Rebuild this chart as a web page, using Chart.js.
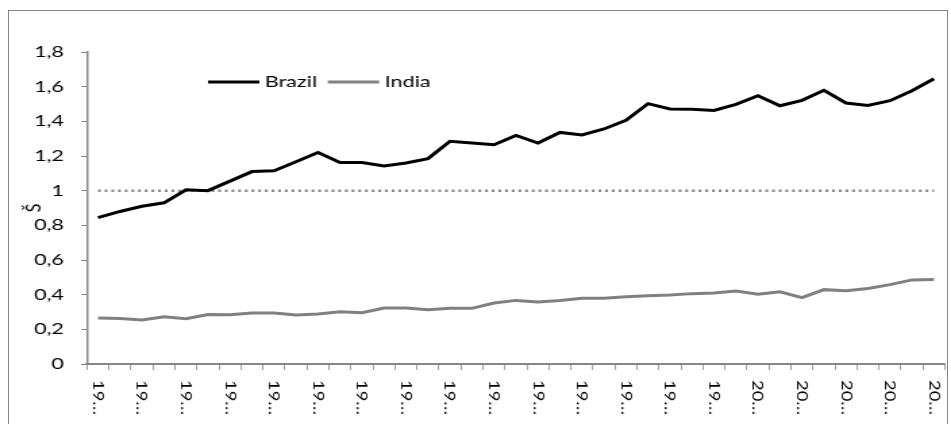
<!DOCTYPE html>
<html>
<head>
<meta charset="utf-8">
<script src="https://cdn.jsdelivr.net/npm/chart.js@4"></script>
<style>
  html, body { margin: 0; padding: 0; background: #fff; }
  #wrap { position: relative; width: 951px; height: 424px; overflow: hidden; }
  #frame { position: absolute; left: 8px; top: 10px; width: 940px; height: 430px; border: 1px solid #868686; box-sizing: border-box; }
  /* the source picture is stretched sideways, so the canvas is drawn narrow and widened */
  #stretch { position: absolute; left: 0; top: 0; width: 704px; height: 424px; transform: scale(1.3509, 1); transform-origin: 0 0; }
  canvas { display: block; }
</style>
</head>
<body>
<div id="wrap">
  <div id="frame"></div>
  <div id="stretch"><canvas id="chart" width="704" height="424"></canvas></div>
</div>
<script>
let years = [];
for (let yr = 1970; yr <= 2008; yr++) years.push(String(yr));

let brazil = [0.845, 0.88, 0.91, 0.93, 1.005, 1.0, 1.055, 1.11, 1.115, 1.167,
  1.22, 1.163, 1.163, 1.142, 1.16, 1.185, 1.285, 1.275, 1.265, 1.319,
  1.275, 1.336, 1.321, 1.356, 1.406, 1.502, 1.471, 1.469, 1.463, 1.498,
  1.548, 1.49, 1.521, 1.579, 1.506, 1.492, 1.519, 1.577, 1.646];

let india = [0.265, 0.263, 0.254, 0.273, 0.261, 0.286, 0.284, 0.294, 0.294, 0.283,
  0.288, 0.302, 0.296, 0.323, 0.323, 0.313, 0.321, 0.321, 0.352, 0.367,
  0.358, 0.367, 0.379, 0.379, 0.388, 0.394, 0.398, 0.406, 0.41, 0.421,
  0.402, 0.417, 0.383, 0.429, 0.423, 0.436, 0.458, 0.485, 0.487];

let parity = years.map(() => 1);

const font = "Lato, 'Open Sans', sans-serif";

// legend drawn inside the plot, like the Excel one
const innerLegend = {
  id: 'innerLegend',
  afterDraw(chart) {
    const c = chart.ctx;
    let x = 154, y = 82;
    c.save();
    c.font = '16px ' + font;
    c.textBaseline = 'middle';
    chart.data.datasets.forEach(ds => {
      if (!ds.legend) return;
      c.strokeStyle = ds.borderColor;
      c.lineWidth = 3;
      c.beginPath();
      c.moveTo(x, y);
      c.lineTo(x + 38, y);
      c.stroke();
      c.fillStyle = '#000';
      c.fillText(ds.label, x + 42, y);
      x += 42 + c.measureText(ds.label).width + 8;
    });
    c.restore();
  }
};

// category labels written downwards (top to bottom), every second year, cut off like Excel
const downLabels = {
  id: 'downLabels',
  afterDraw(chart) {
    const sc = chart.scales.x;
    const c = chart.ctx;
    c.save();
    c.font = '16px ' + font;
    c.fillStyle = '#000';
    c.textBaseline = 'middle';
    c.textAlign = 'left';
    chart.data.labels.forEach((lab, i) => {
      if (i % 2) return;
      const txt = lab.slice(0, 2) + '…';
      const w = c.measureText(txt).width;
      c.save();
      c.translate(sc.getPixelForValue(i), sc.top + 16);
      c.rotate(Math.PI / 2);
      c.scale(35 / w, 0.72);
      c.fillText(txt, 0, 0);
      c.restore();
    });
    c.restore();
  }
};

const ctx = document.getElementById('chart').getContext('2d');
const chart = new Chart(ctx, {
  type: 'line',
  data: {
    labels: years,
    datasets: [{
      label: 'Brazil',
      legend: true,
      data: brazil,
      borderColor: '#000000',
      borderWidth: 3,
      pointRadius: 0,
      tension: 0,
      fill: false
    }, {
      label: 'India',
      legend: true,
      data: india,
      borderColor: '#808080',
      borderWidth: 3,
      pointRadius: 0,
      tension: 0,
      fill: false
    }, {
      label: 'parity',
      data: parity,
      borderColor: '#8a8a8a',
      borderWidth: 2.5,
      borderDash: [2.1, 2.84],
      pointRadius: 0,
      fill: false
    }]
  },
  options: {
    responsive: false,
    animation: false,
    events: [],
    layout: { padding: { left: 6, right: 4.5, top: 52, bottom: 0 } },
    plugins: {
      legend: { display: false },
      tooltip: { enabled: false }
    },
    scales: {
      x: {
        offset: true,
        grid: { offset: true, drawOnChartArea: false, drawTicks: true, tickLength: 6, color: '#868686', lineWidth: 0.8 },
        border: { color: '#868686', width: 2 },
        ticks: {
          autoSkip: false,
          maxRotation: 0,
          color: 'rgba(0,0,0,0)',
          font: { size: 10 },
          callback: () => ''
        },
        afterFit: s => { s.height = 60; }
      },
      y: {
        min: 0,
        max: 1.8,
        grid: { drawOnChartArea: false, drawTicks: true, tickLength: 4.4, color: '#868686' },
        border: { color: '#868686', width: 1.5 },
        title: { display: true, text: 'Š', color: '#000', font: { family: font, size: 16 }, padding: { top: 9, bottom: 0 } },
        ticks: {
          stepSize: 0.2,
          padding: 12.6,
          color: '#000',
          font: { family: font, size: 16 },
          callback: v => String(+v.toFixed(1)).replace('.', ',')
        },
        afterFit: s => { s.width = 58.4; }
      }
    }
  },
  plugins: [innerLegend, downLabels]
});
</script>
</body>
</html>
